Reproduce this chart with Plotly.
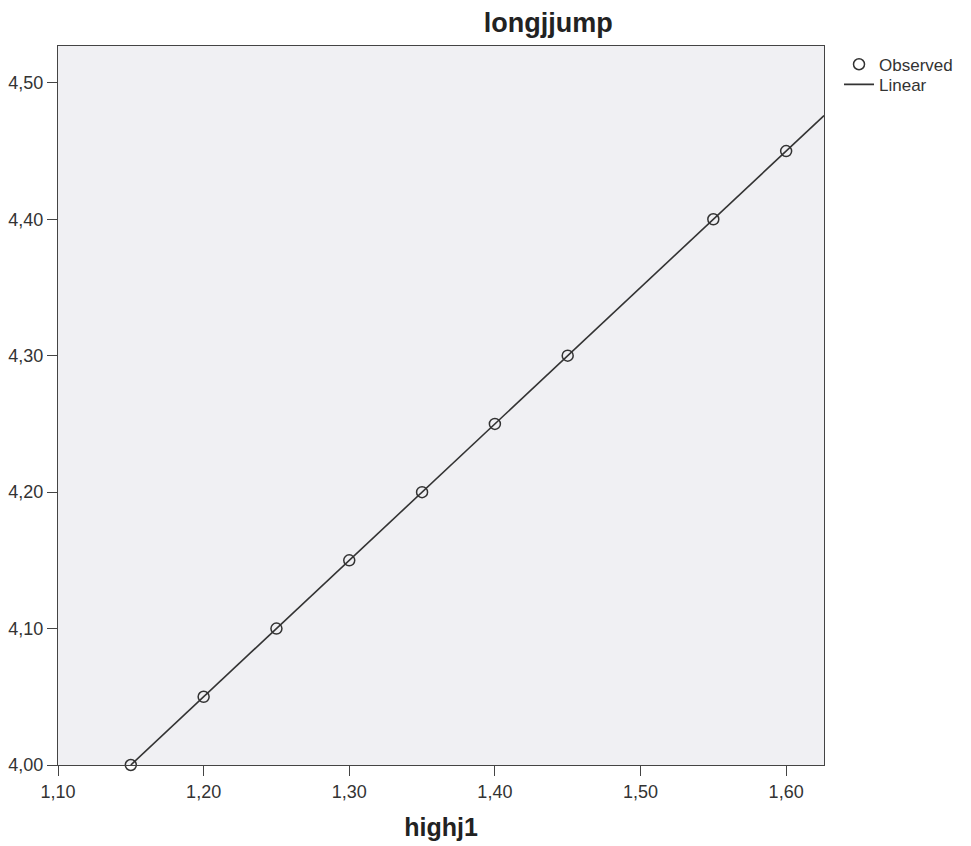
import numpy as np
import plotly.graph_objects as go

highj1 = [1.15, 1.20, 1.25, 1.30, 1.35, 1.40, 1.45, 1.55, 1.60]
longjjump = [4.00, 4.05, 4.10, 4.15, 4.20, 4.25, 4.30, 4.40, 4.45]
x_range = [1.10, 1.626]
y_range = [4.00, 4.527]
x_ticks = [1.10, 1.20, 1.30, 1.40, 1.50, 1.60]
y_ticks = [4.00, 4.10, 4.20, 4.30, 4.40, 4.50]

b, a = np.polyfit(highj1, longjjump, 1)
fit_x = np.array([min(highj1), x_range[1]])
fit_y = a + b * fit_x

font = "Liberation Sans, Arial, sans-serif"
dark = "#333333"

fig = go.Figure()
fig.add_trace(go.Scatter(
    x=highj1, y=longjjump, mode="markers", name="Observed", legend="legend",
    marker=dict(symbol="circle-open", size=11, color=dark, line=dict(width=1.5, color=dark)),
    cliponaxis=False,
))
fig.add_trace(go.Scatter(
    x=fit_x, y=fit_y, mode="lines", name="Linear", legend="legend2",
    line=dict(color=dark, width=1.6),
))

axis_common = dict(
    showgrid=False, zeroline=False, showline=True, linecolor="#444444", linewidth=1.3,
    mirror=True, ticks="outside", ticklen=10, tickwidth=1.3, tickcolor="#444444",
    tickformat=".2f", tickfont=dict(family=font, size=18, color="#333333"),
    automargin=False,
)

leg_common = dict(xanchor="left", yanchor="middle", bgcolor="rgba(0,0,0,0)",
                  font=dict(family=font, size=17, color="#333333"), itemwidth=30)

fig.update_layout(
    width=963, height=838,
    margin=dict(l=50, r=147, t=38, b=81),
    paper_bgcolor="white", plot_bgcolor="#F0F0F3",
    separators=", ",
    title=dict(text="<b>longjjump</b>", x=0.561, xref="container", xanchor="center",
               y=0.983, yref="container", yanchor="middle",
               font=dict(family=font, size=27, color="#222222")),
    xaxis=dict(range=x_range, tickvals=x_ticks, title=dict(text="<b>highj1</b>", standoff=17,
               font=dict(family=font, size=25, color="#222222")), **axis_common),
    yaxis=dict(range=y_range, tickvals=y_ticks, **axis_common),
    legend=dict(x=1.0196, y=0.974, **leg_common),
    legend2=dict(x=1.0196, y=0.946, **leg_common),
    showlegend=True,
)

fig.write_html("out.html")
